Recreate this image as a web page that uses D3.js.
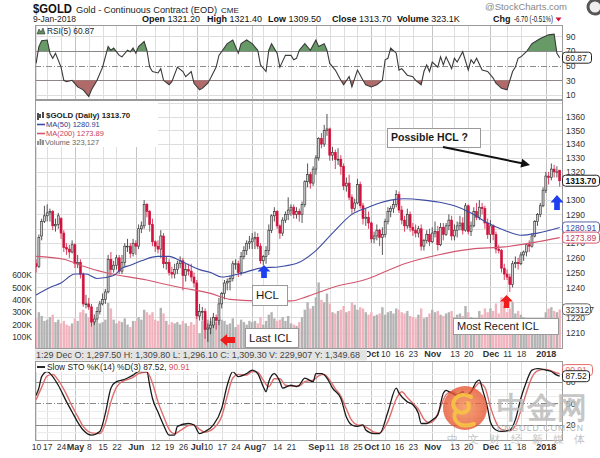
<!DOCTYPE html>
<html><head><meta charset="utf-8">
<script src="https://cdn.jsdelivr.net/npm/d3@7/dist/d3.min.js"></script>
<style>body{margin:0;background:#fff}svg{display:block}text{font-family:"Liberation Sans",Arial,sans-serif}</style>
</head><body><svg id="c" width="600" height="458"></svg>
<script>
// ---------- DATA (trading-day index 0 = 10-Apr-2017 ... 189 = 9-Jan-2018) ----------
const open = [
1256,1254,1275,1285,1289,1291,1292,1282,1283,1287,1277,1267,1266,1264,
1269,1256,1257,1249,1229,1229,1227,1217,1219,1224,1229,1232,1237,1259,1252,1255,1260,1251,1257,1268,1268,1263,
1270,1268,1280,1282,1297,1292,1283,1271,1268,1266,1275,1256,1257,1250,1249,1252,1256,1258,1248,1252,1251,1247,
1243,1221,1224,1224,1212,1213,1215,1220,1218,1229,1236,1243,1244,1246,1256,1256,1250,1261,1265,1270,
1271,1273,1274,1268,1258,1261,1265,1279,1289,1292,1282,1277,1286,1290,1293,1295,1290,1292,1290,1297,1313,1318,1312,
1322,1330,1344,1340,1350,1351,1332,1334,1329,1329,1324,1310,1312,1302,1294,1298,1311,1296,1287,1288,
1284,1273,1275,1279,1274,1276,1285,1292,1294,1297,1304,1293,1286,1282,1290,1281,1279,1277,1280,1268,1272,1276,
1271,1277,1278,1269,1281,1276,1282,1286,1275,1279,1282,1284,1279,1296,1278,1282,1292,1288,1295,1294,1284,
1276,1282,1276,1266,1265,1253,1249,1247,1242,1256,1257,1256,1262,1264,1269,1268,1275,1285,1290,1296,
1307,1317,1316,1322,1320,1321.2];
const high = [
1259,1276,1287,1296,1297,1294,1293,1287,1291,1288,1279,1270,1269,1272,
1270,1262,1259,1250,1235,1233,1229,1222,1227,1231,1236,1239,1262,1264,1258,1262,1262,1262,1270,1273,1270,1273,
1272,1283,1285,1300,1298,1293,1287,1272,1272,1279,1277,1261,1259,1254,1256,1258,1261,1260,1256,1256,1256,1250,
1245,1229,1227,1226,1216,1220,1223,1222,1233,1237,1245,1246,1248,1258,1259,1258,1264,1268,1272,1275,
1277,1278,1277,1270,1262,1268,1283,1290,1295,1293,1283,1288,1292,1302,1297,1297,1295,1294,1299,1314,1326,1320,1324,
1332,1345,1348,1354,1362,1352,1338,1336,1337,1332,1326,1316,1318,1304,1301,1315,1313,1298,1294,1292,
1285,1278,1283,1280,1281,1287,1295,1296,1300,1307,1306,1296,1289,1294,1292,1284,1283,1282,1283,1273,1279,1280,
1281,1285,1282,1284,1284,1284,1290,1289,1283,1285,1289,1288,1298,1297,1285,1295,1298,1300,1298,1296,1287,
1286,1283,1278,1269,1266,1256,1252,1249,1258,1261,1260,1264,1265,1270,1272,1277,1286,1291,1298,1309,
1320,1320,1326,1325,1324,1321.4];
const low = [
1250,1253,1272,1284,1285,1285,1279,1278,1280,1273,1264,1262,1260,1263,
1253,1253,1246,1227,1226,1225,1214,1215,1217,1222,1228,1229,1236,1247,1250,1252,1249,1249,1254,1264,1260,1261,
1262,1266,1277,1280,1288,1278,1268,1264,1263,1260,1253,1252,1248,1246,1246,1249,1253,1238,1244,1248,1244,1240,
1219,1218,1218,1206,1204,1209,1213,1212,1215,1226,1232,1238,1238,1244,1252,1247,1248,1259,1262,1266,
1266,1266,1266,1256,1255,1256,1262,1277,1285,1280,1273,1275,1284,1286,1289,1287,1287,1285,1284,1295,1309,1308,1310,
1318,1328,1337,1338,1346,1328,1328,1322,1325,1318,1307,1306,1300,1290,1292,1297,1294,1283,1282,1280,
1270,1270,1272,1268,1262,1274,1283,1288,1291,1295,1291,1283,1278,1280,1278,1275,1274,1274,1265,1265,1270,1268,
1270,1274,1265,1268,1272,1275,1279,1272,1272,1274,1279,1276,1278,1276,1275,1281,1286,1286,1290,1280,1273,
1270,1272,1263,1263,1250,1245,1245,1237,1240,1253,1252,1255,1258,1261,1264,1267,1274,1282,1288,1295,
1305,1311,1314,1316,1316,1309.5];
const close = [
1254,1274,1285,1289,1291,1292,1282,1283,1289,1277,1267,1266,1264,1269,
1256,1257,1249,1229,1229,1227,1217,1219,1224,1229,1232,1237,1259,1252,1255,1260,1251,1257,1268,1268,1263,1270,
1268,1280,1282,1297,1292,1283,1271,1268,1266,1275,1256,1257,1250,1249,1252,1256,1258,1248,1252,1251,1247,1243,
1221,1224,1224,1212,1213,1215,1220,1218,1229,1236,1243,1244,1246,1256,1256,1250,1261,1265,1270,1271,
1273,1274,1268,1258,1261,1265,1279,1289,1292,1282,1277,1286,1290,1293,1295,1290,1292,1290,1297,1313,1318,1312,1322,
1330,1344,1340,1350,1351,1332,1334,1329,1329,1324,1310,1312,1302,1294,1298,1311,1296,1287,1288,1284,
1273,1275,1279,1274,1276,1285,1292,1294,1297,1304,1293,1286,1282,1290,1281,1279,1277,1280,1268,1272,1276,1271,
1277,1278,1269,1281,1276,1282,1286,1275,1279,1282,1284,1279,1296,1278,1282,1292,1288,1295,1294,1284,1276,
1282,1276,1266,1265,1253,1249,1247,1242,1256,1257,1256,1262,1264,1269,1268,1275,1285,1290,1296,1307,
1317,1316,1322,1320,1320,1313.7];
// volume in thousands
const volume = [
250,300,270,230,240,260,280,220,240,210,230,200,190,210,
250,230,300,320,290,260,280,230,220,210,220,240,375,330,240,210,230,220,250,200,180,230,
230,260,240,320,300,280,300,240,230,335,290,230,200,220,210,220,200,230,210,190,220,200,
260,130,230,280,240,230,250,220,260,240,230,200,210,250,180,200,240,220,200,230,
220,230,210,260,200,230,280,300,250,230,240,260,230,270,210,200,190,220,260,320,380,330,350,
420,540,400,380,450,370,300,290,310,320,350,300,310,380,360,320,340,330,300,280,
300,270,280,290,340,280,300,310,290,330,320,300,290,310,270,260,250,280,330,250,260,290,
320,300,310,280,270,290,300,310,260,280,290,270,350,300,260,200,140,310,280,330,300,
330,310,370,290,420,350,300,330,380,290,310,280,260,250,220,180,160,200,190,170,
300,330,340,310,300,323];
const ma50 = [[0,1235],[5,1240],[9,1243],[14,1249],[18,1249],[22,1246],[28,1248],[31,1253],[34,1255],[38,1258],[44,1261],[48,1261],[52,1258],[59,1252],[63,1250],[67,1247],[73,1249],[81,1253],[88,1254],[95,1257],[101,1265],[107,1277],[114,1290],[120,1295],[124,1298],[128,1300],[133,1301],[140,1300],[147,1298],[151,1296],[157,1291],[163,1284],[169,1279],[175,1275.5],[181,1277],[189,1280.91]];
const ma200 = [[0,1261],[10,1259],[16,1255],[25,1250],[40,1245],[47,1242],[52,1240],[63,1236],[70,1232],[81,1231],[92,1231],[98,1234],[107,1240],[120,1246],[124,1249],[133,1256],[145,1262],[157,1266],[169,1267.5],[181,1271],[189,1273.89]];
const rsi = [[0,53],[1,76],[2,84],[4,85],[5,67],[6,60],[7,67],[9,48],[10,30],[11,28],[13,30],[15,21],[17,17],[19,8],[20,17],[22,30],[24,48],[26,76],[27,71],[28,74],[30,64],[31,62],[33,71],[34,69],[35,74],[36,67],[37,76],[39,83],[40,71],[41,48],[42,42],[44,40],[45,46],[46,30],[48,24],[49,28],[51,48],[53,42],[54,35],[56,42],[57,26],[59,17],[60,19],[62,26],[63,33],[65,48],[66,64],[69,80],[71,85],[73,67],[74,80],[76,85],[78,80],[80,71],[81,51],[83,42],[84,71],[85,80],[87,67],[88,48],[90,64],[92,64],[93,58],[94,60],[95,71],[97,80],[99,71],[101,85],[102,76],[104,80],[105,71],[106,53],[108,44],[110,30],[111,24],[113,35],[114,21],[116,44],[118,30],[119,24],[121,21],[123,24],[125,30],[126,58],[127,60],[128,74],[130,67],[131,44],[132,46],[134,37],[136,35],[137,30],[139,24],[140,42],[141,51],[142,42],[143,55],[145,48],[146,62],[147,51],[148,62],[150,46],[151,60],[152,55],[154,69],[156,44],[157,58],[158,53],[159,60],[161,44],[163,42],[165,33],[166,26],[168,19],[170,17],[172,42],[173,48],[174,60],[175,62],[177,69],[179,80],[182,87],[185,92],[187,93],[188,67],[189,60.87]];
const stoK = [[0,61],[1,71],[2,87],[4,94],[6,87],[8,75],[11,52],[13,38],[15,24],[17,13],[20,6],[23,11],[25,36],[27,71],[29,80],[31,82],[33,85],[35,89],[37,94],[40,94],[41,75],[42,57],[44,38],[46,20],[48,6],[50,6],[51,18],[55,22],[57,20],[59,8],[61,11],[64,20],[67,43],[69,75],[71,94],[73,87],[76,91],[78,96],[80,91],[82,73],[83,66],[84,80],[86,91],[88,80],[89,71],[92,75],[94,73],[95,75],[97,85],[100,80],[101,91],[103,91],[105,85],[107,71],[110,57],[112,31],[114,20],[116,18],[118,20],[119,13],[122,8],[124,8],[127,38],[130,71],[131,64],[134,52],[136,48],[138,36],[139,22],[141,22],[143,27],[145,34],[147,64],[148,68],[150,64],[152,61],[154,66],[155,61],[157,66],[159,80],[160,82],[161,71],[163,43],[164,24],[166,13],[168,11],[171,13],[173,27],[175,57],[177,80],[179,96],[181,98],[184,96],[186,94],[188,89],[189,87.52]];
const stoD = [[0,55],[2,72],[4,88],[6,90],[8,82],[11,62],[13,46],[15,32],[17,18],[20,9],[23,8],[25,22],[27,52],[29,72],[31,80],[33,83],[35,86],[37,91],[40,93],[42,78],[44,52],[46,32],[48,14],[50,8],[52,12],[55,19],[57,20],[59,14],[61,10],[64,15],[67,32],[69,60],[71,85],[73,90],[76,89],[78,94],[80,93],[82,82],[84,73],[86,84],[88,84],[90,75],[92,74],[95,74],[97,80],[100,82],[102,88],[104,90],[106,82],[108,70],[110,60],[112,42],[114,26],[116,20],[118,19],[120,15],[122,10],[124,9],[127,25],[130,56],[132,66],[134,58],[136,50],[138,42],[140,28],[142,23],[144,28],[146,45],[148,62],[150,66],[152,63],[154,63],[156,63],[158,70],[160,78],[162,72],[164,45],[166,24],[168,14],[171,12],[173,19],[175,40],[177,65],[179,86],[181,95],[184,97],[186,95],[188,92],[189,90.91]];
const dateTicks = [[0,"10"],[4,"17"],[9,"24"],[14,"May"],[19,"8"],[24,"15"],[29,"22"],[36,"Jun"],[43,"12"],[48,"19"],[53,"26"],[58,"Jul"],[62,"10"],[67,"17"],[72,"24"],[78,"Aug"],[82,"7"],[87,"14"],[92,"21"],[101,"Sep"],[106,"11"],[111,"18"],[116,"25"],[121,"Oct"],[126,"10"],[131,"16"],[136,"23"],[143,"Nov"],[151,"13"],[156,"20"],[164,"Dec"],[170,"11"],[175,"18"],[184,"2018"]];
const boldTicks = ["May","Jun","Jul","Aug","Sep","Oct","Nov","Dec","2018"];
const priceTicks = [1210,1220,1240,1250,1260,1270,1290,1300,1320,1330,1340,1350,1360];
const priceGrid = [1200,1210,1220,1230,1240,1250,1260,1270,1280,1290,1300,1310,1320,1330,1340,1350,1360,1370];
const volTicks = [100,200,300,400,500,600];
const rsiTicks = [10,30,50,70,90];
const stoTicks = [20,50,80];

// ---------- SCALES ----------
const svg = d3.select("#c");
const X0 = 35, X1 = 563;
const x = d3.scaleLinear().domain([-0.4, 190.2]).range([X0, X1]);
const RS = [25, 100], MN = [100, 349], ST = [361, 441];
const yR = d3.scaleLinear().domain([0, 100]).range([102.3, 29]);
const yP = d3.scaleLog().domain([1210, 1360]).range([332.7, 116.7]);
const yV = d3.scaleLinear().domain([0, 600]).range([349.4, 275]);
const yS = d3.scaleLinear().domain([0, 100]).range([439.4, 367.2]);
const LEG = '"DejaVu Sans",Verdana,sans-serif';

const defs = svg.append("defs");
function clip(id, r) { defs.append("clipPath").attr("id", id).append("rect").attr("x", X0).attr("y", r[0]).attr("width", X1 - X0).attr("height", r[1] - r[0]); }
clip("cR", RS); clip("cM", MN); clip("cS", ST);

// ---------- GRIDS ----------
function vgrid(r) {
  const g = svg.append("g").attr("shape-rendering", "crispEdges");
  g.selectAll("line").data(dateTicks).join("line")
    .attr("x1", d => Math.round(x(d[0])) + 0.5).attr("x2", d => Math.round(x(d[0])) + 0.5)
    .attr("y1", r[0]).attr("y2", r[1])
    .attr("stroke", d => boldTicks.includes(d[1]) ? "#c4c4c4" : "#dedede");
}
vgrid(RS); vgrid(MN); vgrid(ST);

svg.append("g").attr("clip-path", "url(#cM)").attr("shape-rendering", "crispEdges")
  .selectAll("line").data(priceGrid).join("line")
  .attr("x1", X0).attr("x2", X1).attr("y1", d => Math.round(yP(d)) + 0.5).attr("y2", d => Math.round(yP(d)) + 0.5)
  .attr("stroke", "#dedede");

const rg = svg.append("g").attr("shape-rendering", "crispEdges");
rg.selectAll("line").data(rsiTicks).join("line")
  .attr("x1", X0).attr("x2", X1).attr("y1", d => Math.round(yR(d)) + 0.5).attr("y2", d => Math.round(yR(d)) + 0.5)
  .attr("stroke", d => (d === 30 || d === 70 || d === 50) ? "#8a8a8a" : "#dedede")
  .attr("stroke-dasharray", d => d === 50 ? "6,2,1,2" : null);
const sg = svg.append("g").attr("shape-rendering", "crispEdges");
sg.selectAll("line").data([10, 20, 30, 40, 50, 60, 70, 80, 90]).join("line")
  .attr("x1", X0).attr("x2", X1).attr("y1", d => Math.round(yS(d)) + 0.5).attr("y2", d => Math.round(yS(d)) + 0.5)
  .attr("stroke", d => stoTicks.includes(d) ? "#8a8a8a" : "#ececec")
  .attr("stroke-dasharray", d => d === 50 ? "6,2,1,2" : null);

// ---------- RSI ----------
const rsiG = svg.append("g").attr("clip-path", "url(#cR)");
defs.append("clipPath").attr("id", "above70").append("rect").attr("x", X0).attr("y", RS[0]).attr("width", X1 - X0).attr("height", yR(70) - RS[0]);
defs.append("clipPath").attr("id", "below30").append("rect").attr("x", X0).attr("y", yR(30)).attr("width", X1 - X0).attr("height", RS[1] - yR(30));
rsiG.append("path").datum(rsi).attr("clip-path", "url(#above70)")
  .attr("d", d3.area().x(d => x(d[0])).y0(yR(70)).y1(d => yR(d[1]))).attr("fill", "#679a67");
rsiG.append("path").datum(rsi).attr("clip-path", "url(#below30)")
  .attr("d", d3.area().x(d => x(d[0])).y0(yR(30)).y1(d => yR(d[1]))).attr("fill", "#b06a6a");
rsiG.append("path").datum(rsi).attr("d", d3.line().x(d => x(d[0])).y(d => yR(d[1])))
  .attr("fill", "none").attr("stroke", "#3a3a3a").attr("stroke-width", 1.1);

// ---------- MAIN: volume, candles, MAs ----------
const days = d3.range(close.length);
const mg = svg.append("g").attr("clip-path", "url(#cM)");
mg.append("g").selectAll("rect").data(days).join("rect")
  .attr("x", i => x(i) - 1.2).attr("width", 2.4)
  .attr("y", i => yV(volume[i])).attr("height", i => yV(0) - yV(volume[i]))
  .attr("fill", i => close[i] >= open[i] ? "#b3b3b3" : "#f1b3bd");
const cg = mg.append("g");
days.forEach(i => {
  const up = close[i] >= open[i];
  const col = up ? "#2a2a2a" : "#d0123c";
  const hi = Math.max(high[i], open[i], close[i]), lo = Math.min(low[i], open[i], close[i]);
  cg.append("line").attr("x1", x(i)).attr("x2", x(i)).attr("y1", yP(hi)).attr("y2", yP(lo)).attr("stroke", col).attr("stroke-width", 0.8);
  const t = yP(Math.max(open[i], close[i])), b = yP(Math.min(open[i], close[i]));
  cg.append("rect").attr("x", x(i) - 1).attr("width", 2).attr("y", t).attr("height", Math.max(0.8, b - t))
    .attr("fill", up ? "#d0d0d0" : "#d0123c").attr("stroke", col).attr("stroke-width", 0.6);
});
const maLine = d3.line().x(d => x(d[0])).y(d => yP(d[1])).curve(d3.curveMonotoneX);
mg.append("path").datum(ma200).attr("d", maLine).attr("fill", "none").attr("stroke", "#d2566e").attr("stroke-width", 1.1);
mg.append("path").datum(ma50).attr("d", maLine).attr("fill", "none").attr("stroke", "#3d4ba3").attr("stroke-width", 1.1);

// ---------- STO ----------
const stG = svg.append("g").attr("clip-path", "url(#cS)");
const sLine = d3.line().x(d => x(d[0])).y(d => yS(d[1])).curve(d3.curveMonotoneX);
stG.append("path").datum(stoD).attr("d", sLine).attr("fill", "none").attr("stroke", "#e06d6d").attr("stroke-width", 1.4);
stG.append("path").datum(stoK).attr("d", sLine).attr("fill", "none").attr("stroke", "#1a1a1a").attr("stroke-width", 1.3);

// ---------- PANEL BORDERS ----------
[RS, MN, ST].forEach(r => svg.append("rect").attr("x", X0 + 0.5).attr("y", r[0] + 0.5).attr("width", X1 - X0 - 1).attr("height", r[1] - r[0] - 1)
  .attr("fill", "none").attr("stroke", "#9a9a9a").attr("shape-rendering", "crispEdges"));

// ---------- AXES ----------
function styleAxis(g, size) { g.select(".domain").remove(); g.selectAll("text").attr("font-size", size).attr("fill", "#333").attr("font-family", '"Liberation Sans",Arial,sans-serif'); }
svg.append("g").attr("transform", `translate(${X1},0)`)
  .call(d3.axisRight(yP).tickValues(priceTicks).tickSize(0).tickPadding(3).tickFormat(d3.format("d")))
  .call(g => styleAxis(g, 8.5));
svg.append("g").attr("transform", `translate(${X0},0)`)
  .call(d3.axisLeft(yV).tickValues(volTicks).tickSize(0).tickPadding(3).tickFormat(d => d + "K"))
  .call(g => styleAxis(g, 8.5));
svg.append("g").attr("transform", `translate(${X1},0)`)
  .call(d3.axisRight(yR).tickValues(rsiTicks).tickSize(0).tickPadding(3))
  .call(g => styleAxis(g, 8.5));
svg.append("g").attr("transform", `translate(${X1},0)`)
  .call(d3.axisRight(yS).tickValues(stoTicks).tickSize(0).tickPadding(3))
  .call(g => styleAxis(g, 8.5));
function dateAxis(yy, ticks) {
  svg.append("g").attr("transform", `translate(0,${yy})`)
    .call(d3.axisBottom(x).tickValues(ticks.map(d => d[0])).tickSize(0).tickPadding(0).tickFormat((d, i) => ticks[i][1]))
    .call(g => { styleAxis(g, 8.5); g.selectAll("text").attr("font-weight", (d, i) => boldTicks.includes(ticks[i][1]) ? "bold" : null).attr("font-size", (d, i) => boldTicks.includes(ticks[i][1]) ? 9 : 8.5); });
}
// main strip: left part is covered by the crosshair read-out band
dateAxis(350.5, dateTicks.filter(d => x(d[0]) > 366));
dateAxis(443.5, dateTicks);

svg.append("rect").attr("x", X0).attr("y", 349.5).attr("width", 332).attr("height", 11).attr("fill", "#e3e3e3");
svg.append("text").attr("x", 36).attr("y", 358).attr("font-size", 8.5).attr("fill", "#444")
  .attr("textLength", 324).attr("lengthAdjust", "spacingAndGlyphs")
  .text("1:29 Dec  O: 1,297.50   H: 1,309.80   L: 1,296.10   C: 1,309.30   V: 229,907   Y: 1,349.68");

// ---------- VALUE BOXES ON RIGHT ----------
function vbox(y, w, txt, stroke, color, bold) {
  svg.append("rect").attr("x", X1 - 0.5).attr("y", y - 5.5).attr("width", w).attr("height", 11).attr("rx", 3)
    .attr("fill", "#fff").attr("stroke", stroke).attr("stroke-width", 1);
  svg.append("text").attr("x", X1 + 2.5).attr("y", y + 3.2).attr("font-size", 8.5).attr("fill", color)
    .attr("font-weight", bold ? "bold" : null).text(txt);
}
vbox(yP(1313.7), 37, "1313.70", "#222", "#111", true);
vbox(yP(1280.91), 37, "1280.91", "#5560a8", "#3d4ba3", false);
vbox(yP(1273.89), 37, "1273.89", "#d2566e", "#c0405a", false);
vbox(yV(323.127), 28, "323127", "#666", "#333", false);
vbox(yR(60.87), 29, "60.87", "#222", "#222", false);
vbox(yS(96), 30, "90.91", "#e06d6d", "#e06d6d", false);
vbox(yS(87.52), 27, "87.52", "#222", "#222", false);

// ---------- HEADER ----------
svg.append("text").attr("x", 33).attr("y", 13).attr("font-size", 12.5).attr("font-weight", "bold").attr("fill", "#111")
  .attr("textLength", 39).attr("lengthAdjust", "spacingAndGlyphs").text("$GOLD");
svg.append("text").attr("x", 76).attr("y", 12.5).attr("font-size", 9.5).attr("fill", "#222")
  .attr("textLength", 141).attr("lengthAdjust", "spacingAndGlyphs").text("Gold - Continuous Contract (EOD)");
svg.append("text").attr("x", 221).attr("y", 12.5).attr("font-size", 8).attr("fill", "#222").text("CME");
svg.append("text").attr("x", 485).attr("y", 10).attr("font-size", 9.5).attr("fill", "#888").text("@StockCharts.com");
svg.append("text").attr("x", 33).attr("y", 22).attr("font-size", 8.5).attr("fill", "#222").text("9-Jan-2018");
[[142, "Open", "1321.20"], [207, "High", "1321.40"], [268, "Low", "1309.50"], [332, "Close", "1313.70"], [397, "Volume", "323.1K"]].forEach(s => {
  const t = svg.append("text").attr("x", s[0]).attr("y", 22).attr("font-size", 9).attr("fill", "#111");
  t.append("tspan").attr("font-weight", "bold").text(s[1]);
  t.append("tspan").text(" " + s[2]);
});
svg.append("text").attr("x", 493).attr("y", 22).attr("font-size", 9).attr("font-weight", "bold").attr("fill", "#111").text("Chg");
svg.append("text").attr("x", 514).attr("y", 22).attr("font-size", 9).attr("fill", "#111")
  .attr("textLength", 39).attr("lengthAdjust", "spacingAndGlyphs").text("-6.70 (-0.51%)");
svg.append("path").attr("d", "M555.5,17.5 L561.5,17.5 L558.5,21.5 Z").attr("fill", "#d0123c");
svg.append("circle").attr("cx", 595).attr("cy", 7).attr("r", 7).attr("fill", "#eee").attr("stroke", "#555").attr("stroke-width", 3);

// ---------- LEGENDS ----------
svg.append("path").attr("d", "M37,34 L39,29 L41,32 L43,28 L45,34 Z").attr("fill", "#5c8f5c").attr("stroke", "#333").attr("stroke-width", 0.6);
svg.append("text").attr("x", 47).attr("y", 34).attr("font-family", LEG).attr("font-size", 8.3).attr("fill", "#222").text("RSI(5) 60.87");

svg.append("rect").attr("x", 36).attr("y", 101).attr("width", 122).attr("height", 46).attr("fill", "#fff");
svg.append("path").attr("d", "M38,113v7M40,114v4M43,112v6").attr("stroke", "#222").attr("stroke-width", 1.6);
svg.append("text").attr("x", 46).attr("y", 118).attr("font-family", LEG).attr("font-size", 7.9).attr("font-weight", "bold").attr("fill", "#222").text("$GOLD (Daily) 1313.70");
svg.append("line").attr("x1", 37).attr("x2", 45).attr("y1", 124.5).attr("y2", 124.5).attr("stroke", "#3d4ba3").attr("stroke-width", 1.6);
svg.append("text").attr("x", 46).attr("y", 127).attr("font-family", LEG).attr("font-size", 7.5).attr("fill", "#2e3a8c").text("MA(50) 1280.91");
svg.append("line").attr("x1", 37).attr("x2", 45).attr("y1", 133.5).attr("y2", 133.5).attr("stroke", "#d2566e").attr("stroke-width", 1.6);
svg.append("text").attr("x", 46).attr("y", 136).attr("font-family", LEG).attr("font-size", 7.5).attr("fill", "#c8405c").text("MA(200) 1273.89");
svg.append("path").attr("d", "M38,145v-4M40.5,145v-6M43,145v-5").attr("stroke", "#888").attr("stroke-width", 1.8);
svg.append("text").attr("x", 45).attr("y", 145).attr("font-family", LEG).attr("font-size", 7.5).attr("fill", "#666").text("Volume 323,127");

svg.append("rect").attr("x", 36).attr("y", 362).attr("width", 200).attr("height", 10).attr("fill", "#fff").attr("opacity", 0.85);
svg.append("line").attr("x1", 37).attr("x2", 45).attr("y1", 367).attr("y2", 367).attr("stroke", "#111").attr("stroke-width", 1.8);
const stL = svg.append("text").attr("x", 47).attr("y", 370).attr("font-family", LEG).attr("font-size", 8.4).attr("fill", "#222");
stL.append("tspan").text("Slow STO %K(14) %D(3) 87.52, ");
stL.append("tspan").attr("fill", "#e05050").text("90.91");

// ---------- ANNOTATIONS ----------
function note(x0, y0, w, h, txt, fs, bold) {
  svg.append("rect").attr("x", x0 + 0.5).attr("y", y0 + 0.5).attr("width", w).attr("height", h).attr("fill", "#fff").attr("stroke", "#9a9a9a");
  svg.append("text").attr("x", x0 + 4).attr("y", y0 + h / 2 + fs * 0.36).attr("font-size", fs).attr("font-weight", bold ? "bold" : null).attr("fill", "#1a1a1a").text(txt);
}
note(387, 128, 93, 19, "Possible HCL ?", 10.5, true);
note(252, 285, 35, 20, "HCL", 11.5, false);
note(245, 328, 53, 19, "Last ICL", 11.5, false);
note(453, 318, 105, 16, "Most Recent ICL", 11, false);
svg.append("line").attr("x1", 443).attr("y1", 147).attr("x2", 522).attr("y2", 163.3).attr("stroke", "#111").attr("stroke-width", 2);
svg.append("path").attr("d", "M530,165 L520.4,167.6 L522.2,158.8 Z").attr("fill", "#111");
function upArrow(cx, top, w, h, col) {
  svg.append("path").attr("d", `M${cx},${top} L${cx + w / 2},${top + h * 0.5} L${cx + w * 0.22},${top + h * 0.5} L${cx + w * 0.22},${top + h} L${cx - w * 0.22},${top + h} L${cx - w * 0.22},${top + h * 0.5} L${cx - w / 2},${top + h * 0.5} Z`).attr("fill", col);
}
upArrow(264, 265, 13, 13, "#1d3ff0");
upArrow(557, 195, 13, 15, "#1d3ff0");
upArrow(506.5, 295, 13, 13, "#f01c1c");
svg.append("path").attr("d", "M220,340 L227,334 L227,337 L235,337 L235,343 L227,343 L227,346 Z").attr("fill", "#f01c1c");

// ---------- WATERMARK ----------
const wm = svg.append("g");
const gr = defs.append("radialGradient").attr("id", "lg");
gr.append("stop").attr("offset", "0%").attr("stop-color", "#f48a4a");
gr.append("stop").attr("offset", "100%").attr("stop-color", "#e4502e");
wm.append("circle").attr("cx", 465).attr("cy", 408).attr("r", 22).attr("fill", "url(#lg)").attr("opacity", 0.78);
wm.append("path").attr("d", "M471,397 C459,390 448,402 456,410 C462,416 472,411 468,403 M456,411 C451,420 459,429 474,424")
  .attr("fill", "none").attr("stroke", "#f6c445").attr("stroke-width", 4).attr("stroke-linecap", "round").attr("opacity", 0.9);
wm.append("text").attr("x", 497).attr("y", 418).attr("font-family", '"Noto Sans CJK SC",sans-serif').attr("font-size", 30).attr("font-weight", "bold").attr("fill", "#bdbdbd").attr("opacity", 0.85).text("中金网");
wm.append("text").attr("x", 497).attr("y", 431).attr("font-size", 8.5).attr("fill", "#b5b5b5").attr("textLength", 86).text("CNGOLD.COM.CN");
wm.append("text").attr("x", 447).attr("y", 443).attr("font-family", '"Noto Sans CJK SC",sans-serif').attr("font-size", 11).attr("fill", "#c4c4c4")
  .attr("textLength", 138).attr("lengthAdjust", "spacing").text("中文财经新媒体");
</script></body></html>
